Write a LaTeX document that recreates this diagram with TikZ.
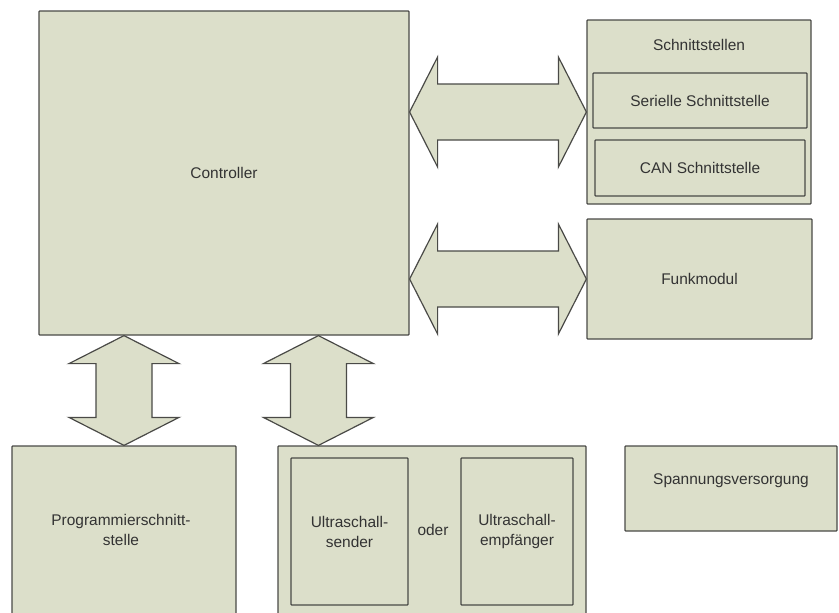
\documentclass[tikz,border=0pt]{standalone}
\usepackage{fontspec}
\setmainfont{Liberation Sans}
\usetikzlibrary{fit,calc}

\definecolor{boxfill}{HTML}{DCDFCA}
\definecolor{boxline}{HTML}{4A4A47}
\definecolor{textgray}{HTML}{333333}

\tikzset{
  blocktext/.style={text=textgray, align=center, font=\fontsize{11.6}{15}\selectfont},
  box/.style={draw=boxline, fill=boxfill, line width=0.9pt, rounded corners=0.6pt,
              inner sep=0pt},
  lbl/.style={inner sep=0pt, blocktext},
  % text set in the middle of a block
  caption/.style={label={[lbl]center:{#1}}},
  barrow/.style={draw=boxline, fill=boxfill, line width=0.9pt, line join=miter},
}

% double-headed block arrow, horizontal: from left point #1 to right point #2
\newcommand\hbarrow[2]{%
  \draw[barrow] let \p1=(#1), \p2=(#2) in
    (\x1,\y1) -- (\x1+21pt,\y1+41.25pt) -- (\x1+21pt,\y1+21pt)
    -- (\x2-21pt,\y1+21pt) -- (\x2-21pt,\y1+41.25pt) -- (\x2,\y2)
    -- (\x2-21pt,\y1-41.25pt) -- (\x2-21pt,\y1-21pt)
    -- (\x1+21pt,\y1-21pt) -- (\x1+21pt,\y1-41.25pt) -- cycle;}
% double-headed block arrow, vertical: from upper point #1 to lower point #2
\newcommand\vbarrow[2]{%
  \draw[barrow] let \p1=(#1), \p2=(#2) in
    (\x1,\y1) -- (\x1+41.25pt,\y1-21pt) -- (\x1+21pt,\y1-21pt)
    -- (\x1+21pt,\y2+21pt) -- (\x1+41.25pt,\y2+21pt) -- (\x2,\y2)
    -- (\x1-41.25pt,\y2+21pt) -- (\x1-21pt,\y2+21pt)
    -- (\x1-21pt,\y1-21pt) -- (\x1-41.25pt,\y1-21pt) -- cycle;}

\begin{document}
\begin{tikzpicture}[x=0.75pt,y=-0.75pt]
  \useasboundingbox (0,0) rectangle (839,612);
  \fill[white] (0,0) rectangle (839,612);
  \clip (0,0) rectangle (839,612);

  % main blocks
  \node[box, fit={(39,11) (409,335)}, caption=Controller] (ctrl) {};
  \node[box, fit={(587,20) (811,204)}] (iface) {};
  \node[lbl] (ifacetitle) at (699,45) {Schnittstellen};
  \node[box, fit={(593,73) (807,128)}, caption=Serielle Schnittstelle] (serial) {};
  \node[box, fit={(595,140) (805,196)}, caption=CAN Schnittstelle] (can) {};
  \node[box, fit={(587,219) (812,339)}, caption=Funkmodul] (funk) {};

  \node[box, fit={(12,446) (236,614)}] (prog) {};
  \node[lbl] (progtxt) at (121,530) {Programmierschnitt-\\stelle};
  \node[box, fit={(278,446) (586,614)}] (ultra) {};
  \node[box, fit={(291,458) (408,605)}, caption={Ultraschall-\\sender}] (sender) {};
  \node[lbl] (oder) at (433,530) {oder};
  \node[box, fit={(461,458) (573,605)}, caption={Ultraschall-\\empfänger}] (empf) {};

  \node[box, fit={(625,446) (837,531)}] (power) {};
  \node[lbl] (powertxt) at (731,481) {Spannungsversorgung};

  % connector end points
  \coordinate (a1) at (ctrl.east |- iface.west);
  \coordinate (b1) at (ctrl.east |- funk.west);
  \coordinate (c1) at (ctrl.south -| prog.north);
  \coordinate (d2) at ($(ultra.north west)+(41,0)$);
  \coordinate (d1) at (ctrl.south -| d2);

  % block arrows
  \hbarrow{a1}{iface.west}
  \hbarrow{b1}{funk.west}
  \vbarrow{c1}{prog.north}
  \vbarrow{d1}{d2}
\end{tikzpicture}
\end{document}
